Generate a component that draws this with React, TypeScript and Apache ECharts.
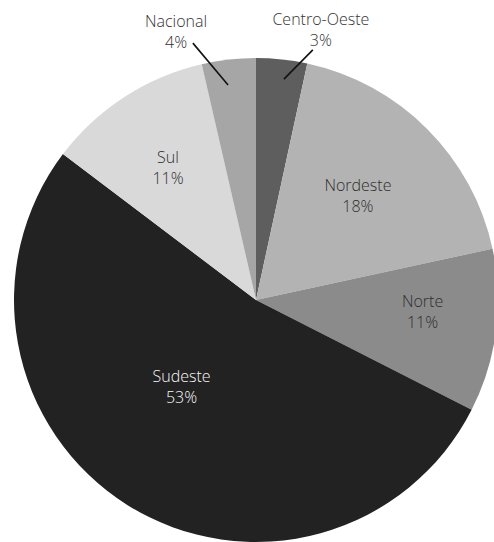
import React, { useEffect, useRef } from "react";
import * as echarts from "echarts";

const categories = ["Centro-Oeste", "Nordeste", "Norte", "Sudeste", "Sul", "Nacional"];
const values = [3.4, 18.2, 10.9, 52.8, 11.1, 3.6];
const colors = ["#5e5e5e", "#b3b3b3", "#8b8b8b", "#222222", "#d9d9d9", "#a6a6a6"];
const textColors = ["#333333", "#2e2e2e", "#2e2e2e", "#f6f6f6", "#2e2e2e", "#333333"];
// label placement in polar form: [radius fraction, angle in degrees clockwise from top]
const labelPolar: [number, number][] = [
  [1.148, 13.5],
  [0.602, 44.4],
  [0.69, 94.1],
  [0.473, 220.6],
  [0.659, 326.5],
  [1.156, 343.4],
];
// leader line: [start fraction, start angle, end fraction, end angle]
const leaderPolar: ([number, number, number, number] | null)[] = [
  [0.92, 7.2, 1.06, 12.8],
  null,
  null,
  null,
  null,
  [0.896, 352.6, 1.093, 346.2],
];

const CX = 256;
const CY = 300;
const R = 242;

function polar(f: number, deg: number): [number, number] {
  const a = (deg * Math.PI) / 180;
  return [CX + R * f * Math.sin(a), CY - R * f * Math.cos(a)];
}

export default function App() {
  const ref = useRef<HTMLDivElement>(null);
  useEffect(() => {
    if (!ref.current) return;
    const chart = echarts.init(ref.current, null, { renderer: "svg" });
    const lines = leaderPolar
      .filter((l) => l)
      .map((l) => {
        const s = polar(l![0], l![1]);
        const e = polar(l![2], l![3]);
        return {
          type: "line",
          z: 100,
          silent: true,
          shape: { x1: s[0], y1: s[1], x2: e[0], y2: e[1] },
          style: { stroke: "#111111", lineWidth: 1.6 },
        };
      });
    chart.setOption({
      animation: false,
      backgroundColor: "#ffffff",
      graphic: lines,
      series: [
        {
          type: "pie",
          center: [CX, CY],
          radius: R,
          startAngle: 90,
          clockwise: true,
          avoidLabelOverlap: false,
          silent: true,
          data: categories.map((name, i) => ({
            name,
            value: values[i],
            itemStyle: { color: colors[i] },
            label: { show: true, position: "inside", color: textColors[i] },
            labelLine: { show: false },
          })),
          label: {
            fontFamily: "Open Sans",
            fontWeight: 300,
            fontSize: 16,
            lineHeight: 21,
            align: "center",
            formatter: (p: any) => `${p.name}\n${Math.round(p.percent)}%`,
          },
          labelLayout: (p: any) => {
            const i = p.dataIndex;
            const [x, y] = polar(labelPolar[i][0], labelPolar[i][1]);
            return { x, y, align: "center", verticalAlign: "middle" };
          },
        },
      ],
    });
    return () => chart.dispose();
  }, []);
  return (
    <div
      ref={ref}
      style={{ position: "absolute", left: 0, top: 0, width: 494, height: 542 }}
    />
  );
}
